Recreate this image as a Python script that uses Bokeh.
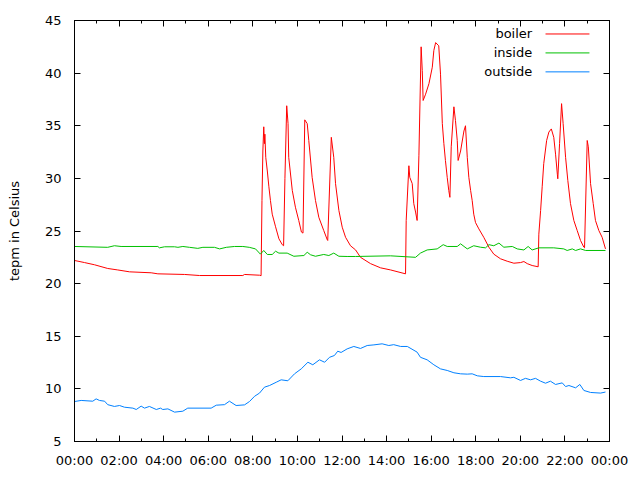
from bokeh.plotting import figure
from bokeh.models import Range1d, FixedTicker, LinearAxis
from bokeh.core.properties import value
from bokeh.embed import file_html
from bokeh.resources import INLINE

# ---- data (hours of day, degrees Celsius) ----
boiler_t = [0.0, 0.45, 0.9, 1.49, 1.94, 2.47, 3.44, 3.74, 4.94, 5.61, 7.55, 7.63, 8.3, 8.37,
            8.41, 8.45, 8.49, 8.52, 8.54, 8.58, 8.65, 8.72, 8.79, 8.87, 9.02, 9.17, 9.32, 9.38,
            9.44, 9.52, 9.58, 9.61, 9.77, 9.91, 10.06, 10.18, 10.25,
            10.33, 10.44, 10.51, 10.66, 10.81, 10.96, 11.18, 11.34, 11.36,
            11.52, 11.63, 11.71, 11.86, 12.01, 12.16, 12.38, 12.61, 12.83, 13.28, 13.73, 14.18, 14.85,
            14.88, 15.0, 15.04, 15.15, 15.22, 15.3, 15.37, 15.45, 15.49, 15.55, 15.6, 15.64, 15.75,
            15.9, 16.05, 16.12, 16.2, 16.34, 16.42, 16.5, 16.57, 16.64, 16.72, 16.79, 16.84,
            16.9, 17.02, 17.09, 17.17, 17.21, 17.32, 17.47, 17.54, 17.62, 17.69, 17.77, 17.84,
            17.91, 17.99, 18.14, 18.36, 18.59, 18.81, 19.11, 19.41, 19.71, 20.01, 20.16, 20.31,
            20.53, 20.8, 20.83, 20.91, 20.98, 21.05, 21.18, 21.28, 21.39, 21.5, 21.58, 21.66, 21.68,
            21.76, 21.85, 21.92, 22.03, 22.13, 22.25, 22.4, 22.55, 22.7, 22.85, 22.88,
            23.0, 23.05, 23.15, 23.27, 23.37, 23.52, 23.67, 23.82]
boiler_v = [22.2, 22.0, 21.79, 21.44, 21.3, 21.12, 21.03, 20.93, 20.87, 20.77, 20.77, 20.87, 20.8, 20.75,
            27.9, 32.6, 34.9, 33.3, 34.2, 32.0, 30.7, 29.2, 27.9, 26.6, 25.4, 24.26, 23.7, 23.6,
            30.0, 36.9, 35.2, 32.0, 28.85, 27.26, 26.0, 24.9, 24.8,
            35.56, 35.2, 33.6, 30.1, 27.9, 26.3, 25.05, 24.16, 24.1,
            33.9, 32.0, 29.5, 26.95, 25.36, 24.4, 23.6, 23.2, 22.5, 21.9, 21.5, 21.3, 20.93,
            26.0, 31.2, 30.1, 29.5, 27.6, 26.8, 26.0, 32.2, 36.4, 42.5, 40.25, 37.4, 38.0,
            39.0, 40.56, 42.15, 42.9, 42.6, 39.9, 35.2, 33.3, 31.7, 30.1, 28.85, 28.2,
            33.0, 36.8, 35.5, 33.6, 31.7, 32.6, 34.5, 35.0, 32.0, 30.1, 28.85, 27.9,
            26.6, 25.8, 25.2, 24.4, 23.46, 22.8, 22.36, 22.13, 21.94, 22.0, 22.1, 21.9,
            21.72, 21.6, 24.7, 26.95, 29.2, 31.4, 33.6, 34.4, 34.7, 33.9, 32.3, 30.4, 29.96,
            33.3, 37.1, 35.2, 32.0, 29.8, 27.6, 26.0, 25.05, 24.1, 23.46, 23.4,
            33.6, 33.0, 29.5, 27.6, 26.0, 25.05, 24.4, 23.3]

inside_t = [0.0, 1.49, 1.79, 2.09, 3.74, 3.81, 4.04, 4.49, 4.64, 4.86, 5.16, 5.53, 5.76, 6.28,
            6.51, 6.81, 7.18, 7.55, 7.84, 8.12, 8.34, 8.49, 8.65, 8.87, 9.02, 9.17, 9.54, 9.84,
            10.29, 10.44, 10.59, 10.81, 11.18, 11.41, 11.63, 11.86, 12.23, 12.61, 14.18, 15.3,
            15.52, 15.82, 16.27, 16.54, 16.72, 17.17, 17.32, 17.62, 17.91, 18.21, 18.44, 18.59,
            18.81, 19.04, 19.26, 19.64, 19.86, 20.16, 20.35, 20.53, 20.83, 21.5, 21.95, 22.1,
            22.33, 22.48, 22.7, 22.93, 23.82]
inside_v = [23.53, 23.45, 23.6, 23.53, 23.53, 23.4, 23.5, 23.5, 23.45, 23.53, 23.45, 23.35, 23.45, 23.45,
            23.3, 23.45, 23.53, 23.53, 23.45, 23.3, 22.8, 23.15, 22.77, 22.77, 23.08, 22.9, 22.9, 22.6,
            22.67, 22.98, 22.74, 22.6, 22.77, 22.67, 22.9, 22.6, 22.58, 22.58, 22.64, 22.5,
            22.9, 23.2, 23.3, 23.7, 23.53, 23.53, 23.78, 23.3, 23.6, 23.46, 23.4, 23.7,
            23.6, 23.85, 23.46, 23.53, 23.3, 23.2, 23.53, 23.2, 23.4, 23.4, 23.3, 23.15,
            23.3, 23.15, 23.3, 23.15, 23.15]

outside_t = [0.0, 0.3, 0.82, 0.97, 1.12, 1.35, 1.49, 1.79, 2.02, 2.24, 2.62, 2.77, 2.99, 3.14,
             3.36, 3.67, 3.86, 3.96, 4.19, 4.49, 4.86, 5.08, 6.13, 6.36, 6.73, 6.95, 7.25, 7.63,
             7.85, 8.08, 8.3, 8.52, 8.75, 9.05, 9.27, 9.57, 9.87, 10.17, 10.47, 10.69, 10.99,
             11.22, 11.44, 11.66, 11.81, 11.96, 12.23, 12.53, 12.83, 13.13, 13.43, 13.8, 14.1,
             14.32, 14.63, 14.93, 15.37, 15.52, 15.82, 16.12, 16.42, 16.72, 17.02, 17.32, 17.62,
             17.84, 18.07, 18.36, 19.11, 19.56, 19.71, 20.01, 20.23, 20.46, 20.68, 20.91, 21.13,
             21.35, 21.58, 21.88, 22.03, 22.18, 22.48, 22.67, 22.85, 23.15, 23.6, 23.82]
outside_v = [8.8, 8.9, 8.83, 9.05, 8.9, 8.83, 8.5, 8.33, 8.42, 8.26, 8.17, 8.04, 8.36, 8.17,
             8.33, 8.04, 8.17, 8.04, 8.1, 7.79, 7.88, 8.17, 8.17, 8.45, 8.5, 8.83, 8.42, 8.48,
             8.8, 9.3, 9.6, 10.16, 10.32, 10.63, 10.86, 10.77, 11.43, 11.9, 12.53, 12.29, 12.76,
             12.53, 13.0, 13.17, 13.58, 13.46, 13.8, 14.03, 13.84, 14.12, 14.18, 14.28, 14.12,
             14.2, 14.03, 14.03, 13.49, 13.0, 12.76, 12.29, 11.9, 11.75, 11.53, 11.43, 11.4,
             11.43, 11.24, 11.17, 11.17, 11.05, 11.1, 10.8, 11.0, 10.86, 11.0, 10.73, 10.54,
             10.73, 10.42, 10.57, 10.22, 10.32, 10.1, 10.42, 9.85, 9.66, 9.6, 9.7]

series_names = ["boiler", "inside", "outside"]
series_colors = ["#ff0000", "#00c000", "#0080ff"]

x_ticks = [0, 2, 4, 6, 8, 10, 12, 14, 16, 18, 20, 22, 24]
x_tick_labels = ["00:00", "02:00", "04:00", "06:00", "08:00", "10:00", "12:00",
                 "14:00", "16:00", "18:00", "20:00", "22:00", "00:00"]
x_minor = list(range(0, 25))
y_ticks = [5, 10, 15, 20, 25, 30, 35, 40, 45]
y_label = "tepm in Celsius"

FONT = "DejaVu Sans"
FS = "13px"

p = figure(width=640, height=480, output_backend="svg", toolbar_location=None,
           x_range=Range1d(0, 24), y_range=Range1d(5, 45),
           min_border_left=74, min_border_right=31, min_border_top=20, min_border_bottom=39,
           background_fill_color="white", border_fill_color="white")
p.grid.visible = False
p.outline_line_color = "black"
p.outline_line_width = 1


def style_axis(ax, ticks, minor, labels=True):
    ax.ticker = FixedTicker(ticks=ticks, minor_ticks=minor)
    ax.axis_line_color = "black"
    ax.major_tick_line_color = "black"
    ax.minor_tick_line_color = "black"
    ax.major_tick_in = 6
    ax.major_tick_out = 0
    ax.minor_tick_in = 3
    ax.minor_tick_out = 0
    ax.major_label_text_font = FONT
    ax.major_label_text_font_size = FS
    ax.major_label_text_color = "black"
    if not labels:
        ax.major_label_text_alpha = 0.0
        ax.major_label_text_font_size = "0px"


xa = p.xaxis[0]
style_axis(xa, x_ticks, x_minor)
xa.major_label_overrides = {t: l for t, l in zip(x_ticks, x_tick_labels)}
xa.major_label_standoff = 11

ya = p.yaxis[0]
style_axis(ya, y_ticks, [])
ya.major_label_standoff = 13
ya.axis_label = y_label
ya.axis_label_text_font = FONT
ya.axis_label_text_font_size = FS
ya.axis_label_text_font_style = "normal"
ya.axis_label_text_color = "black"
ya.axis_label_standoff = 20

top = LinearAxis()
style_axis(top, x_ticks, x_minor, labels=False)
p.add_layout(top, "above")
right = LinearAxis()
style_axis(right, y_ticks, [], labels=False)
p.add_layout(right, "right")

for t, v, c in zip([boiler_t, inside_t, outside_t], [boiler_v, inside_v, outside_v], series_colors):
    p.line(t, v, line_color=c, line_width=1)

# legend (gnuplot style: label left, sample right), placed in data space
key_text_x = 20.53
key_line_x0, key_line_x1 = 21.13, 23.1
key_y0, key_dy = 43.72, 1.8
for i, (name, c) in enumerate(zip(series_names, series_colors)):
    yy = key_y0 - i * key_dy
    p.text(x=[key_text_x], y=[yy], text=[name], text_align="right", text_baseline="middle",
           text_font=value(FONT), text_font_size=FS, text_color="black")
    p.segment(x0=[key_line_x0], y0=[yy], x1=[key_line_x1], y1=[yy], line_color=c, line_width=1)

open("out.html", "w").write(file_html(p, INLINE))
